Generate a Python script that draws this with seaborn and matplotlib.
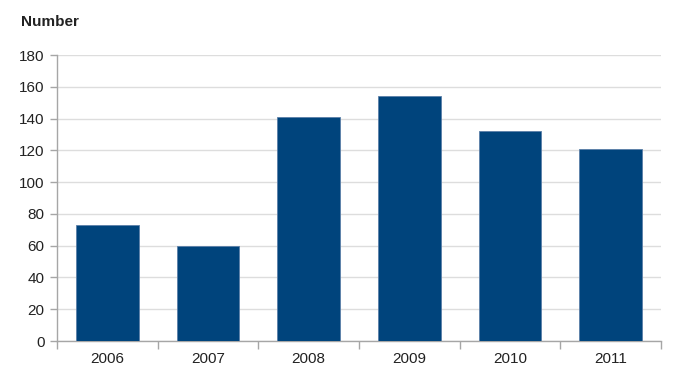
import numpy as np
import pandas as pd
import seaborn as sns
import matplotlib.pyplot as plt
from matplotlib.ticker import FixedLocator

# dados
anos = ['2006', '2007', '2008', '2009', '2010', '2011']
valores = [73, 60, 141, 154, 132, 121]

df = pd.DataFrame({'ano': anos, 'numero': valores})

sns.set_style('white')
plt.rcParams['font.family'] = ['Liberation Sans', 'DejaVu Sans']

fig = plt.figure(figsize=(7, 3.72), dpi=100)
ax = fig.add_axes([0.0814, 0.0833, 0.8629, 0.7688])

sns.barplot(data=df, x='ano', y='numero', color='#00447C', width=0.62,
            saturation=1, ax=ax, zorder=3, edgecolor='#5A7FA8', linewidth=0.6)

cinza = '#A6A6A6'
ax.set_xlim(-0.5, 5.5)
ax.set_ylim(0, 180)
ax.set_yticks(np.arange(0, 181, 20))
ax.yaxis.grid(True, color='#DDDDDD', linewidth=1, zorder=0)
ax.set_axisbelow(True)

for lado in ['top', 'right']:
    ax.spines[lado].set_visible(False)
for lado in ['left', 'bottom']:
    ax.spines[lado].set_color(cinza)
    ax.spines[lado].set_linewidth(1)

# marcas do eixo x nos limites das categorias
ax.xaxis.set_minor_locator(FixedLocator(np.arange(-0.5, 6, 1)))
ax.tick_params(axis='x', which='major', length=0, pad=8, labelsize=11, labelcolor='#222222')
ax.tick_params(axis='x', which='minor', length=6, color=cinza, width=1, direction='out', bottom=True)
ax.tick_params(axis='y', which='major', length=5, color=cinza, width=1, direction='out', left=True,
               pad=4, labelsize=11, labelcolor='#222222')

ax.set_xlabel('')
ax.set_ylabel('')
fig.text(21 / 700, 1 - 21.5 / 372, 'Number', fontsize=11, fontweight='bold',
         color='#222222', va='center', ha='left')

fig.savefig('out.png', dpi=100)
